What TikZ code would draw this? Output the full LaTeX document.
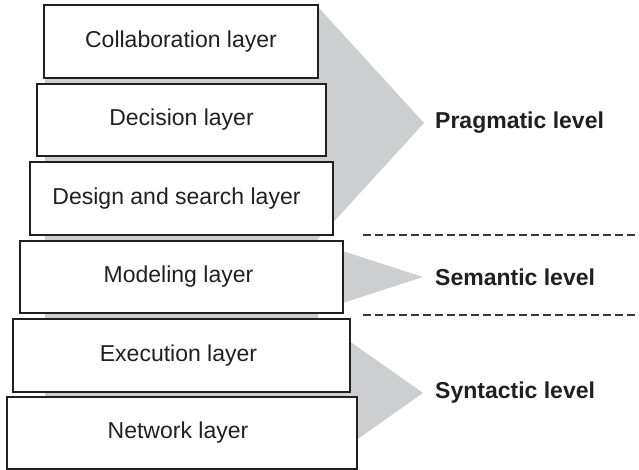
\documentclass[tikz,border=0pt]{standalone}
\usepackage{fontspec}
\setmainfont{Liberation Sans}
\definecolor{backgrey}{RGB}{205,206,208}
\definecolor{ink}{RGB}{35,31,32}
\begin{document}
\begin{tikzpicture}[x=1pt,y=-1pt,
  layerbox/.style={draw=ink,line width=1.5pt,fill=white,inner sep=0pt,
    font=\fontsize{23}{27}\selectfont,text=ink},
  levellabel/.style={anchor=west,inner sep=0pt,font=\fontsize{23}{27}\selectfont\bfseries,text=ink},
  sepline/.style={draw=ink!90,line width=1.8pt,dash pattern=on 8pt off 4pt}]
\useasboundingbox (0,0) rectangle (639,470);
% grey backdrop
\fill[backgrey] (45,8) rectangle (318,466);
\fill[backgrey] (318,7) -- (424,123) -- (318,239) -- cycle;
\fill[backgrey] (318,243) -- (423,277) -- (318,311) -- cycle;
\fill[backgrey] (318,319) -- (423,393) -- (318,467) -- cycle;
% layers
\node[layerbox,minimum width=274pt,minimum height=73pt] (collab) at (181,41.5) {Collaboration layer};
\node[layerbox,minimum width=289pt,minimum height=72pt] (decision) at (181.5,120) {Decision layer};
\node[layerbox,minimum width=303pt,minimum height=73pt] (design) at (181.5,198.5) {\hspace*{-10pt}Design and search layer};
\node[layerbox,minimum width=323pt,minimum height=72pt] (model) at (181.5,277) {\hspace*{-6pt}Modeling layer};
\node[layerbox,minimum width=337pt,minimum height=73pt] (exec) at (181.5,355.5) {\hspace*{-6pt}Execution layer};
\node[layerbox,minimum width=350pt,minimum height=72pt] (net) at (182,433) {\hspace*{-8pt}Network layer};
% level labels
\node[levellabel] (prag) at (435,123) {Pragmatic level};
\node[levellabel] (sem) at (435,277) {Semantic level};
\node[levellabel] (syn) at (435,393) {Syntactic level};
% separators
\coordinate (s1a) at (363,235); \coordinate (s1b) at (639,235);
\coordinate (s2a) at (363,315); \coordinate (s2b) at (639,315);
\draw[sepline] (s1a) -- (s1b);
\draw[sepline] (s2a) -- (s2b);
\end{tikzpicture}
\end{document}
